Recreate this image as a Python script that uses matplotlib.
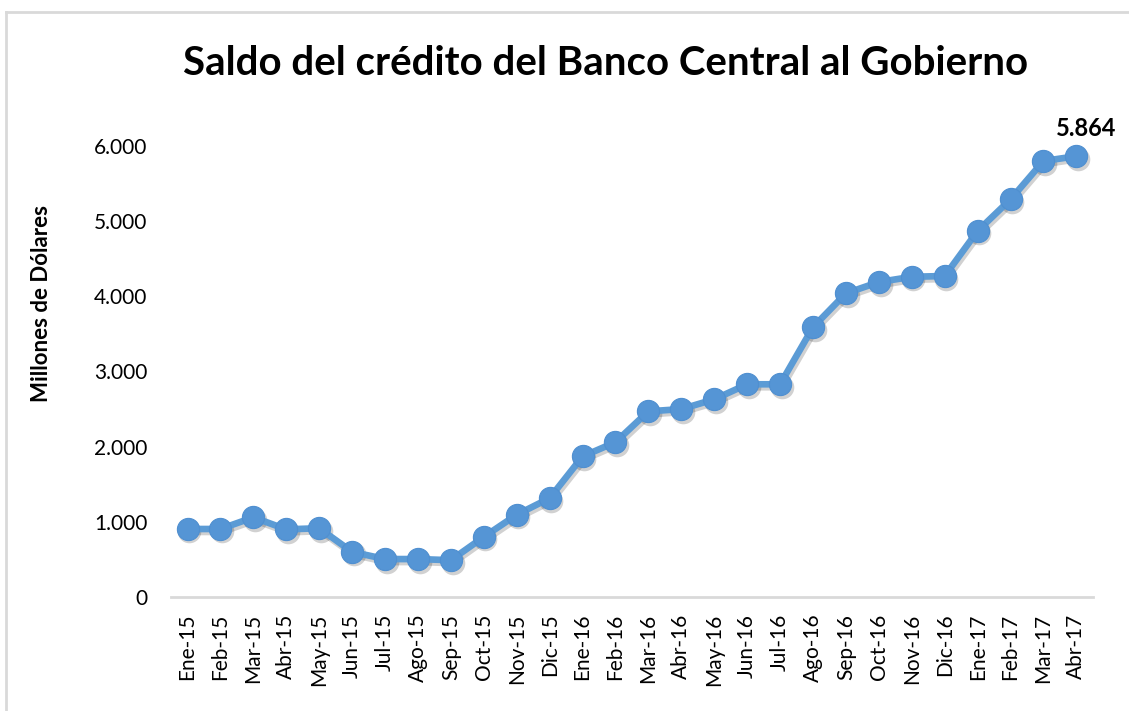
import matplotlib
matplotlib.use('Agg')
import matplotlib.pyplot as plt
import matplotlib.transforms as mtransforms
from matplotlib.lines import Line2D

plt.rcParams['font.family'] = ['Lato', 'DejaVu Sans']

# Datos: saldo mensual (millones de dólares)
meses = ['Ene-15', 'Feb-15', 'Mar-15', 'Abr-15', 'May-15', 'Jun-15', 'Jul-15',
         'Ago-15', 'Sep-15', 'Oct-15', 'Nov-15', 'Dic-15', 'Ene-16', 'Feb-16',
         'Mar-16', 'Abr-16', 'May-16', 'Jun-16', 'Jul-16', 'Ago-16', 'Sep-16',
         'Oct-16', 'Nov-16', 'Dic-16', 'Ene-17', 'Feb-17', 'Mar-17', 'Abr-17']
saldo = [905, 905, 1060, 900, 915, 600, 505, 505, 490, 800, 1095, 1315, 1870,
         2060, 2470, 2500, 2630, 2830, 2830, 3590, 4040, 4190, 4260, 4270,
         4870, 5290, 5800, 5864]
yticks = [0, 1000, 2000, 3000, 4000, 5000, 6000]
ytick_labels = ['0', '1.000', '2.000', '3.000', '4.000', '5.000', '6.000']

azul = '#5B9BD5'

fig = plt.figure(figsize=(11.29, 7.11), dpi=100)
ax = fig.add_axes([0.1515, 0.1603, 0.8165, 0.6344])

x = list(range(len(meses)))

# sombra suave bajo la serie
sombra = mtransforms.offset_copy(ax.transData, fig=fig, x=1.2, y=-1.8, units='points')
ax.plot(x, saldo, color='black', alpha=0.18, linewidth=5.5, marker='o', markersize=17,
        markeredgewidth=0, transform=sombra, clip_on=False, zorder=2)

ax.plot(x, saldo, color=azul, linewidth=4.8, marker='o', markersize=16,
        markerfacecolor='#5595D5', markeredgecolor='#4F8FD0', markeredgewidth=0.8,
        clip_on=False, zorder=3)

ax.set_xlim(-0.5, len(meses) - 0.5)
ax.set_ylim(0, 6000)
ax.set_yticks(yticks)
ax.set_yticklabels(ytick_labels, fontsize=15)
ax.set_xticks(x)
ax.set_xticklabels(meses, rotation=90, fontsize=15)
ax.tick_params(axis='both', length=0, colors='black')
ax.tick_params(axis='y', pad=17)
ax.tick_params(axis='x', pad=12)

for lado in ['top', 'right', 'left']:
    ax.spines[lado].set_visible(False)
ax.spines['bottom'].set_color('#D9D9D9')
ax.spines['bottom'].set_linewidth(2)

ax.set_ylabel('Millones de Dólares', fontsize=16, fontweight='bold')
ax.yaxis.set_label_coords(-0.129, 0.65)

# etiqueta del último valor
ultimo = saldo[-1]
ax.annotate(f'{ultimo:,}'.replace(',', '.'), xy=(x[-1], ultimo), xytext=(7, 12),
            textcoords='offset points', ha='center', va='bottom',
            fontsize=17, fontweight='bold')

fig.text(0.536, 0.91, 'Saldo del crédito del Banco Central al Gobierno',
         ha='center', va='center', fontsize=29, fontweight='bold')

# marco del gráfico
fig.add_artist(Line2D([6 / 1129, 6 / 1129], [0, 1 - 12 / 711], color='#D9D9D9',
                      linewidth=2, transform=fig.transFigure))
fig.add_artist(Line2D([6 / 1129, 1], [1 - 12 / 711, 1 - 12 / 711], color='#D9D9D9',
                      linewidth=2, transform=fig.transFigure))

fig.savefig('out.png', dpi=100)
